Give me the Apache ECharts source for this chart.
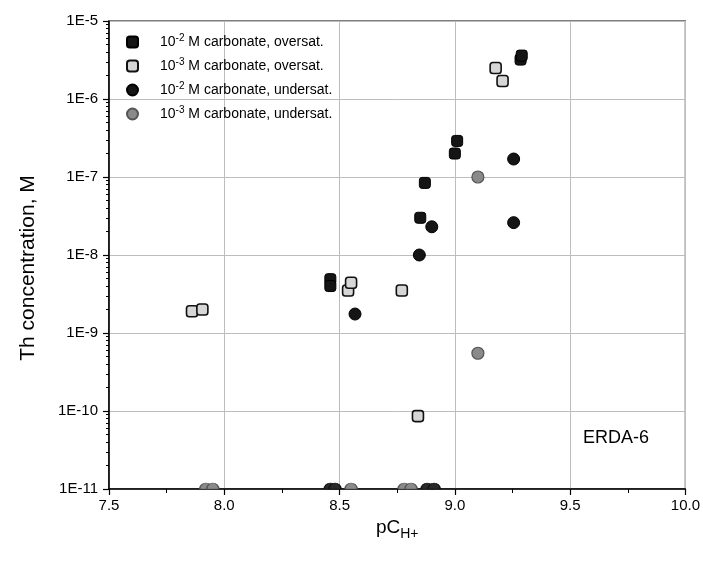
<!DOCTYPE html>
<html>
<head>
<meta charset="utf-8">
<script src="https://cdn.jsdelivr.net/npm/echarts@6/dist/echarts.min.js"></script>
<style>
  html, body { margin: 0; padding: 0; background: #fff; }
  #chart { width: 703px; height: 561px; }
</style>
</head>
<body>
<div id="chart"></div>
<script>
// pC(H+) versus Th concentration (M), ERDA-6 brine
const carb2Oversat = [
  [8.46, 4.9e-9], [8.46, 4.0e-9], [8.85, 3.0e-8], [8.87, 8.4e-8],
  [9.00, 2.0e-7], [9.01, 2.9e-7], [9.285, 3.2e-6], [9.29, 3.6e-6]
];
const carb3Oversat = [
  [7.86, 1.9e-9], [7.905, 2.0e-9], [8.537, 3.5e-9], [8.55, 4.4e-9],
  [8.77, 3.5e-9], [8.84, 8.6e-11], [9.177, 2.5e-6], [9.207, 1.7e-6]
];
const carb2Undersat = [
  [8.567, 1.75e-9], [8.846, 1.0e-8], [8.90, 2.3e-8], [9.255, 2.6e-8], [9.255, 1.7e-7]
];
const carb3Undersat = [
  [9.10, 1.0e-7], [9.10, 5.5e-10]
];
// samples sitting at the 1E-11 floor of the plot
const carb2UndersatFloor = [[8.46, 1e-11], [8.48, 1e-11], [8.88, 1e-11], [8.91, 1e-11]];
const carb3UndersatFloor = [[7.92, 1e-11], [7.95, 1e-11], [8.55, 1e-11], [8.78, 1e-11], [8.81, 1e-11]];

const seriesNames = ['c2o', 'c3o', 'c2u', 'c3u'];
const legendText = {
  c2o: '10{sup|-2} M carbonate, oversat.',
  c3o: '10{sup|-3} M carbonate, oversat.',
  c2u: '10{sup|-2} M carbonate, undersat.',
  c3u: '10{sup|-3} M carbonate, undersat.'
};
const xTicks = { min: 7.5, max: 10.0, step: 0.5 };
const yRange = { min: 1e-11, max: 1e-5 };

const FONT = 'Liberation Sans, Arial, sans-serif';
const BLACK = '#151515';
const LIGHT = '#d6d6d6';
const GRAY = '#8a8a8a';
const halfDisc = 'path://M0,10 A10,10 0 0 1 20,10 Z';

const chart = echarts.init(document.getElementById('chart'), null, { renderer: 'canvas' });

chart.setOption({
  animation: false,
  backgroundColor: '#fff',
  grid: {
    left: 109, right: 17, top: 21, bottom: 72,
    show: true, borderColor: '#000', borderWidth: 1.2
  },
  legend: {
    data: seriesNames,
    orient: 'vertical',
    left: 121, top: 28,
    itemWidth: 11, itemHeight: 11, itemGap: 8,
    formatter: n => legendText[n],
    textStyle: {
      fontFamily: FONT, fontSize: 14, color: '#000', padding: [0, 0, 0, 17],
      rich: { sup: { fontFamily: FONT, fontSize: 10, color: '#000', verticalAlign: 'top', padding: [0, 0, 8, 0] } }
    }
  },
  xAxis: {
    type: 'value',
    min: xTicks.min, max: xTicks.max, interval: xTicks.step,
    name: 'pC{sub|H+}',
    nameLocation: 'middle', nameGap: 23,
    nameTextStyle: {
      fontFamily: FONT, fontSize: 19, color: '#000',
      rich: { sub: { fontFamily: FONT, fontSize: 14, color: '#000', padding: [14, 0, 0, 0] } }
    },
    axisLine: { lineStyle: { color: '#000', width: 1.5 } },
    axisTick: { inside: false, length: 6, lineStyle: { color: '#000', width: 1.2 } },
    minorTick: { show: true, splitNumber: 2, length: 4, lineStyle: { color: '#000', width: 1 } },
    axisLabel: {
      fontFamily: FONT, fontSize: 15, color: '#000', margin: 9,
      formatter: v => v.toFixed(1)
    },
    splitLine: { show: true, lineStyle: { color: '#bdbdbd', width: 1 } }
  },
  yAxis: {
    type: 'log', logBase: 10,
    min: yRange.min, max: yRange.max,
    name: 'Th concentration, M',
    nameLocation: 'middle', nameGap: 70,
    nameTextStyle: { fontFamily: FONT, fontSize: 21, color: '#000', padding: [0, 26, 0, 0] },
    axisLine: { lineStyle: { color: '#000', width: 1.5 } },
    axisTick: { inside: false, length: 6, lineStyle: { color: '#000', width: 1.2 } },
    minorTick: { show: true, splitNumber: 9, length: 3, lineStyle: { color: '#000', width: 1 } },
    axisLabel: {
      fontFamily: FONT, fontSize: 15, color: '#000', margin: 11,
      formatter: v => '1E' + Math.round(Math.log10(v))
    },
    splitLine: { show: true, lineStyle: { color: '#bdbdbd', width: 1 } }
  },
  graphic: [{
    type: 'text', left: 583, top: 429,
    style: { text: 'ERDA-6', fontFamily: FONT, fontSize: 18, fill: '#000' }
  }],
  series: [
    {
      name: 'c2o', type: 'scatter', data: carb2Oversat,
      symbol: 'roundRect', symbolSize: 11,
      itemStyle: { color: BLACK, borderColor: '#000', borderWidth: 1, opacity: 1 }, z: 5
    },
    {
      name: 'c3o', type: 'scatter', data: carb3Oversat,
      symbol: 'roundRect', symbolSize: 11,
      itemStyle: { color: LIGHT, borderColor: '#111', borderWidth: 1.6, opacity: 1 }, z: 4
    },
    {
      name: 'c2u', type: 'scatter', data: carb2Undersat,
      symbol: 'circle', symbolSize: 12,
      itemStyle: { color: BLACK, borderColor: '#000', borderWidth: 1, opacity: 1 }, z: 5
    },
    {
      name: 'c3u', type: 'scatter', data: carb3Undersat,
      symbol: 'circle', symbolSize: 12,
      itemStyle: { color: GRAY, borderColor: '#555', borderWidth: 1.2, opacity: 1 }, z: 4
    },
    {
      name: 'c2uFloor', type: 'scatter', data: carb2UndersatFloor,
      symbol: halfDisc, symbolSize: [12, 6], symbolOffset: [0, -3],
      itemStyle: { color: '#2a2a2a', borderColor: '#111', borderWidth: 1, opacity: 1 }, z: 3
    },
    {
      name: 'c3uFloor', type: 'scatter', data: carb3UndersatFloor,
      symbol: halfDisc, symbolSize: [12, 6], symbolOffset: [0, -3],
      itemStyle: { color: GRAY, borderColor: '#555', borderWidth: 1, opacity: 1 }, z: 3
    }
  ]
});
</script>
</body>
</html>
